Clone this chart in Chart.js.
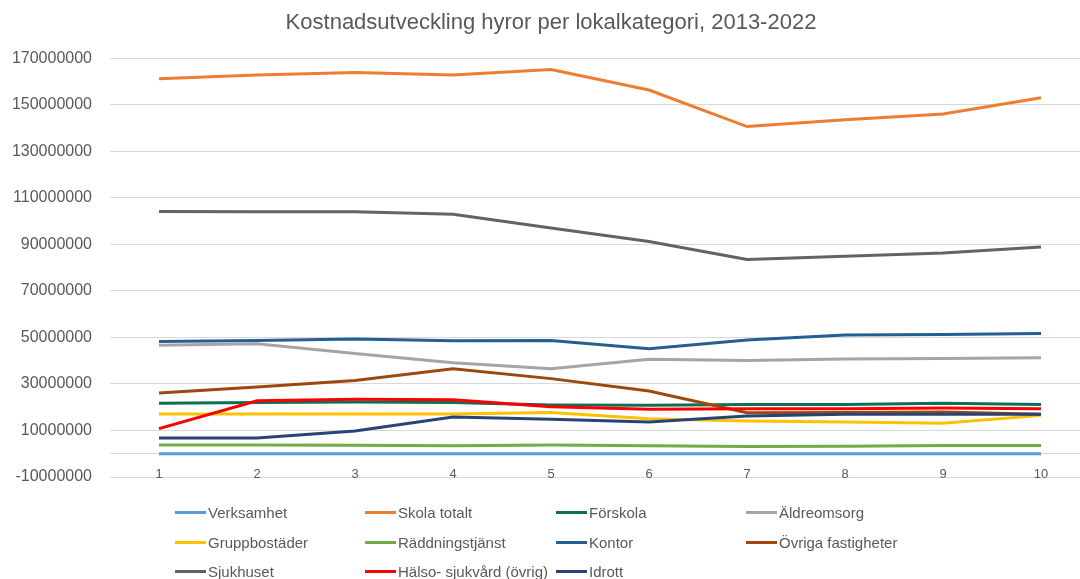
<!DOCTYPE html>
<html>
<head>
<meta charset="utf-8">
<script src="https://cdn.jsdelivr.net/npm/chart.js@4"></script>
<style>
  body { margin: 0; overflow: hidden; background: #fff; }
  #caja { position: relative; width: 1090px; height: 579px; }
  #leyenda { position: absolute; left: 0; top: 0; font-family: "Liberation Sans", Arial, sans-serif; font-size: 15px; color: #595959; }
  .item { position: absolute; display: flex; align-items: center; white-space: nowrap; height: 20px; }
  .linea { width: 31px; height: 3px; margin-right: 2px; }
</style>
</head>
<body>
<div id="caja">
  <canvas id="grafica" width="1090" height="579"></canvas>
  <div id="leyenda"></div>
</div>
<script>
const anios = ["1", "2", "3", "4", "5", "6", "7", "8", "9", "10"];

const verksamhet       = [0, 0, 0, 0, 0, 0, 0, 0, 0, 0];
const skolaTotalt      = [161200000, 162900000, 163900000, 162900000, 165200000, 156400000, 140700000, 143600000, 146100000, 153100000];
const forskola         = [21700000, 22000000, 22200000, 22000000, 21000000, 20800000, 21200000, 21200000, 21700000, 21200000];
const aldreomsorg      = [46600000, 47300000, 43100000, 39100000, 36500000, 40600000, 40100000, 40700000, 41000000, 41300000];
const gruppbostader    = [17100000, 17100000, 17100000, 17100000, 17700000, 15100000, 14100000, 13700000, 13100000, 16500000];
const raddningstjanst  = [3800000, 3800000, 3600000, 3400000, 3800000, 3400000, 3100000, 3200000, 3500000, 3500000];
const kontor           = [48300000, 48700000, 49300000, 48600000, 48700000, 45100000, 48900000, 51100000, 51300000, 51700000];
const ovrigaFastigheter = [26100000, 28700000, 31500000, 36500000, 32300000, 27000000, 17600000, 17700000, 18000000, 17000000];
const sjukhuset        = [104200000, 104100000, 104100000, 103000000, 97100000, 91300000, 83500000, 84900000, 86300000, 88900000];
const halsoSjukvard    = [10800000, 22800000, 23400000, 23200000, 20200000, 19100000, 19400000, 19400000, 19700000, 19400000];
const idrott           = [6800000, 6800000, 9800000, 15800000, 14800000, 13700000, 16200000, 17000000, 17000000, 17000000];

const series = [
  { nombre: "Verksamhet", datos: verksamhet, color: "#5B9BD5" },
  { nombre: "Skola totalt", datos: skolaTotalt, color: "#ED7D31" },
  { nombre: "Förskola", datos: forskola, color: "#0B7156" },
  { nombre: "Äldreomsorg", datos: aldreomsorg, color: "#A5A5A5" },
  { nombre: "Gruppbostäder", datos: gruppbostader, color: "#FFC000" },
  { nombre: "Räddningstjänst", datos: raddningstjanst, color: "#70AD47" },
  { nombre: "Kontor", datos: kontor, color: "#255E91" },
  { nombre: "Övriga fastigheter", datos: ovrigaFastigheter, color: "#9E480E" },
  { nombre: "Sjukhuset", datos: sjukhuset, color: "#636363" },
  { nombre: "Hälso- sjukvård (övrig)", datos: halsoSjukvard, color: "#FF0000" },
  { nombre: "Idrott", datos: idrott, color: "#264478" }
];

const gris = "#595959";
const fuente = "'Liberation Sans', Arial, sans-serif";

// las series de abajo en la lista se dibujan encima, como en Excel
const datasets = series.map((s, i) => ({
  label: s.nombre,
  data: s.datos,
  borderColor: s.color,
  backgroundColor: s.color,
  borderWidth: 3,
  pointRadius: 0,
  tension: 0,
  order: series.length - i
}));

new Chart(document.querySelector("#grafica"), {
  type: "line",
  data: { labels: anios, datasets: datasets },
  options: {
    responsive: false,
    animation: false,
    layout: { padding: { left: 12, right: 0, top: 0, bottom: 102 } },
    plugins: {
      legend: { display: false },
      tooltip: { enabled: false },
      title: {
        display: true,
        text: "Kostnadsutveckling hyror per lokalkategori, 2013-2022",
        color: gris,
        font: { family: fuente, size: 22, weight: "normal" },
        padding: { top: 10, bottom: 22 }
      }
    },
    scales: {
      x: {
        position: { y: 0 },
        offset: true,
        grid: { display: false },
        border: { display: true, color: "#D9D9D9", width: 1 },
        ticks: { color: gris, font: { family: fuente, size: 13 }, padding: 5 }
      },
      y: {
        min: -10000000,
        max: 170000000,
        afterFit: escala => { escala.width = 98; },
        ticks: {
          stepSize: 20000000,
          color: gris,
          font: { family: fuente, size: 16 },
          padding: 18,
          callback: v => String(v)
        },
        grid: { color: "#D9D9D9", drawTicks: false },
        border: { display: false }
      }
    }
  }
});

// leyenda en columnas fijas como la original
const columnas = [175, 365, 556, 746];
const filas = [512, 542, 571];
const $leyenda = document.querySelector("#leyenda");
series.forEach((s, i) => {
  const item = document.createElement("div");
  item.className = "item";
  item.style.left = columnas[i % 4] + "px";
  item.style.top = (filas[Math.floor(i / 4)] - 10) + "px";
  item.innerHTML = '<span class="linea" style="background:' + s.color + '"></span>' + s.nombre;
  $leyenda.appendChild(item);
});
</script>
</body>
</html>
